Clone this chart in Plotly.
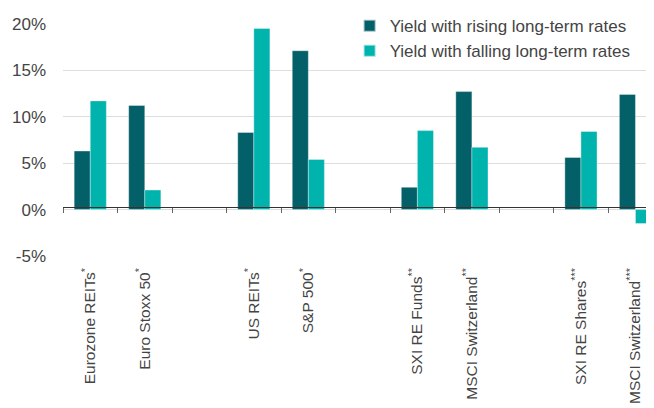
import plotly.graph_objects as go

categories = ["Eurozone REITs<sup>*</sup>", "Euro Stoxx 50<sup>*</sup>", "",
              "US REITs<sup>*</sup>", "S&P 500<sup>*</sup>", "",
              "SXI RE Funds<sup>**</sup>", "MSCI Switzerland<sup>**</sup>", "",
              "SXI RE Shares<sup>***</sup>", "MSCI Switzerland<sup>***</sup>"]
rising = [6.3, 11.2, None, 8.3, 17.1, None, 2.4, 12.7, None, 5.6, 12.4]
falling = [11.7, 2.1, None, 19.5, 5.4, None, 8.5, 6.7, None, 8.4, -1.5]
series_names = ["Yield with rising long-term rates", "Yield with falling long-term rates"]
y_ticks = [-5, 0, 5, 10, 15, 20]

DARK = "#035f68"
TEAL = "#00b3ad"
FONT = "Liberation Sans"

xs = list(range(len(categories)))
boundaries = [i - 0.5 for i in range(len(categories) + 1)]

fig = go.Figure()
fig.add_trace(go.Bar(x=xs, y=rising, name=series_names[0], marker_color=DARK,
                     marker_line=dict(color="rgba(255,255,255,0.6)", width=0.6)))
fig.add_trace(go.Bar(x=xs, y=falling, name=series_names[1], marker_color=TEAL,
                     marker_line=dict(color="rgba(255,255,255,0.6)", width=0.6)))

# page body has an 8px margin, so the figure is 646x400 placed at (8, 8)
fig.update_layout(
    width=646, height=400,
    margin=dict(l=55, r=0, t=0, b=152),
    paper_bgcolor="white", plot_bgcolor="white",
    barmode="group", bargap=0.41, bargroupgap=0,
    font=dict(family=FONT, size=15, color="#444"),
    showlegend=True,
    legend=dict(x=0.485, y=1.016, xanchor="left", yanchor="top",
                bgcolor="white", font=dict(size=17, color="#444"),
                tracegroupgap=0, itemsizing="constant"),
    xaxis=dict(range=[-0.5, 10.34], tickmode="array", tickvals=xs, ticktext=categories,
               tickangle=-90, showgrid=False, showline=False, zeroline=False,
               automargin=False,
               ticks="", tickfont=dict(size=15.5, color="#444"), ticklabelstandoff=8),
    xaxis2=dict(overlaying="x", matches="x", anchor="free", position=0.2,
                showline=True, linecolor="#333", linewidth=1.2, automargin=False,
                ticks="outside", ticklen=5, tickcolor="#666",
                tickmode="array", tickvals=boundaries, showticklabels=False,
                showgrid=False, zeroline=False),
    yaxis=dict(range=[-5, 20], domain=[0, 236 / 248], tickmode="array", tickvals=y_ticks,
               ticktext=[f"{v}%" for v in y_ticks], showgrid=True, automargin=False,
               gridcolor="#dddddd", gridwidth=1, zeroline=False, showline=False,
               ticks="", ticklabelstandoff=16, tickfont=dict(size=17, color="#444")),
)
fig.add_trace(go.Scatter(x=[0], y=[None], xaxis="x2", showlegend=False, hoverinfo="skip"))

fig.write_html("out.html")
